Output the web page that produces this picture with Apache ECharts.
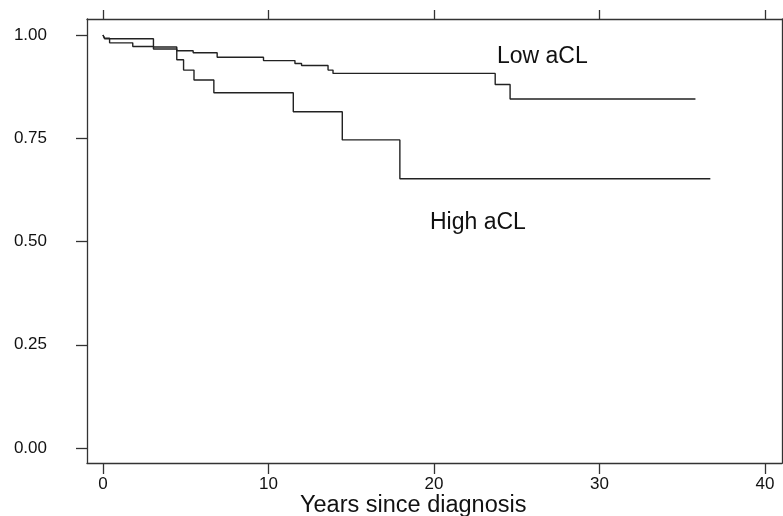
<!DOCTYPE html>
<html>
<head>
<meta charset="utf-8">
<script src="https://cdn.jsdelivr.net/npm/echarts@6/dist/echarts.min.js"></script>
<style>
  html, body { margin: 0; padding: 0; background: #fff; }
  #chart { width: 783px; height: 516px; }
</style>
</head>
<body>
<div id="chart"></div>
<script>
// Kaplan-Meier steps: [years, survival]; value holds until the next point
const lowACL = [
  [0, 1.0], [0.1, 0.991], [3.05, 0.971], [4.46, 0.962], [5.45, 0.957],
  [6.9, 0.946], [9.7, 0.938], [11.6, 0.931], [12.0, 0.926], [13.6, 0.915],
  [13.9, 0.907], [23.7, 0.88], [24.6, 0.845], [35.8, 0.845]
]
const highACL = [
  [0, 1.0], [0.1, 0.992], [0.4, 0.981], [1.8, 0.972], [3.05, 0.966],
  [4.46, 0.94], [4.87, 0.915], [5.5, 0.891], [6.7, 0.86], [11.5, 0.814],
  [14.46, 0.746], [17.94, 0.652], [36.7, 0.652]
]
const xTicks = [0, 10, 20, 30, 40]
const yTicks = [0, 0.25, 0.5, 0.75, 1]

const axisColor = '#333'
const font = 'Liberation Sans, Arial, sans-serif'

const chart = echarts.init(document.getElementById('chart'))
chart.setOption({
  animation: false,
  grid: { left: 87, right: 1, top: 19, bottom: 53 },
  xAxis: [{
    type: 'value',
    min: -0.965,
    max: 41.03,
    axisLine: { show: true, onZero: false, lineStyle: { color: axisColor, width: 1.3 } },
    axisTick: { show: true, length: 11, customValues: xTicks, lineStyle: { color: axisColor, width: 1.3 } },
    axisLabel: { customValues: xTicks, margin: 13, color: '#111', fontSize: 17, fontFamily: font },
    splitLine: { show: false }
  }, {
    type: 'value',
    position: 'top',
    min: -0.965,
    max: 41.03,
    axisLine: { show: true, onZero: false, lineStyle: { color: axisColor, width: 1.3 } },
    axisTick: { show: true, length: 9, customValues: xTicks, lineStyle: { color: axisColor, width: 1.3 } },
    axisLabel: { show: false },
    splitLine: { show: false }
  }],
  yAxis: [{
    type: 'value',
    min: -0.0363,
    max: 1.0387,
    axisLine: { show: true, onZero: false, lineStyle: { color: axisColor, width: 1.3 } },
    axisTick: { show: true, length: 11, customValues: yTicks, lineStyle: { color: axisColor, width: 1.3 } },
    axisLabel: {
      customValues: yTicks,
      margin: 40,
      color: '#111',
      fontSize: 17,
      fontFamily: font,
      formatter: v => v.toFixed(2)
    },
    splitLine: { show: false }
  }, {
    type: 'value',
    position: 'right',
    min: -0.0363,
    max: 1.0387,
    axisLine: { show: true, onZero: false, lineStyle: { color: axisColor, width: 1.3 } },
    axisTick: { show: false },
    axisLabel: { show: false },
    splitLine: { show: false }
  }],
  series: [{
    name: 'Low aCL',
    type: 'line',
    step: 'end',
    data: lowACL,
    showSymbol: false,
    lineStyle: { color: '#222', width: 1.4 }
  }, {
    name: 'High aCL',
    type: 'line',
    step: 'end',
    data: highACL,
    showSymbol: false,
    lineStyle: { color: '#222', width: 1.4 }
  }],
  graphic: [{
    type: 'text',
    left: 497, top: 45,
    style: { text: 'Low aCL', fontSize: 23, fontFamily: font, fill: '#111' }
  }, {
    type: 'text',
    left: 430, top: 211,
    style: { text: 'High aCL', fontSize: 23, fontFamily: font, fill: '#111' }
  }, {
    type: 'text',
    left: 300, top: 494,
    style: { text: 'Years since diagnosis', fontSize: 23.5, fontFamily: font, fill: '#111' }
  }]
})
</script>
</body>
</html>
